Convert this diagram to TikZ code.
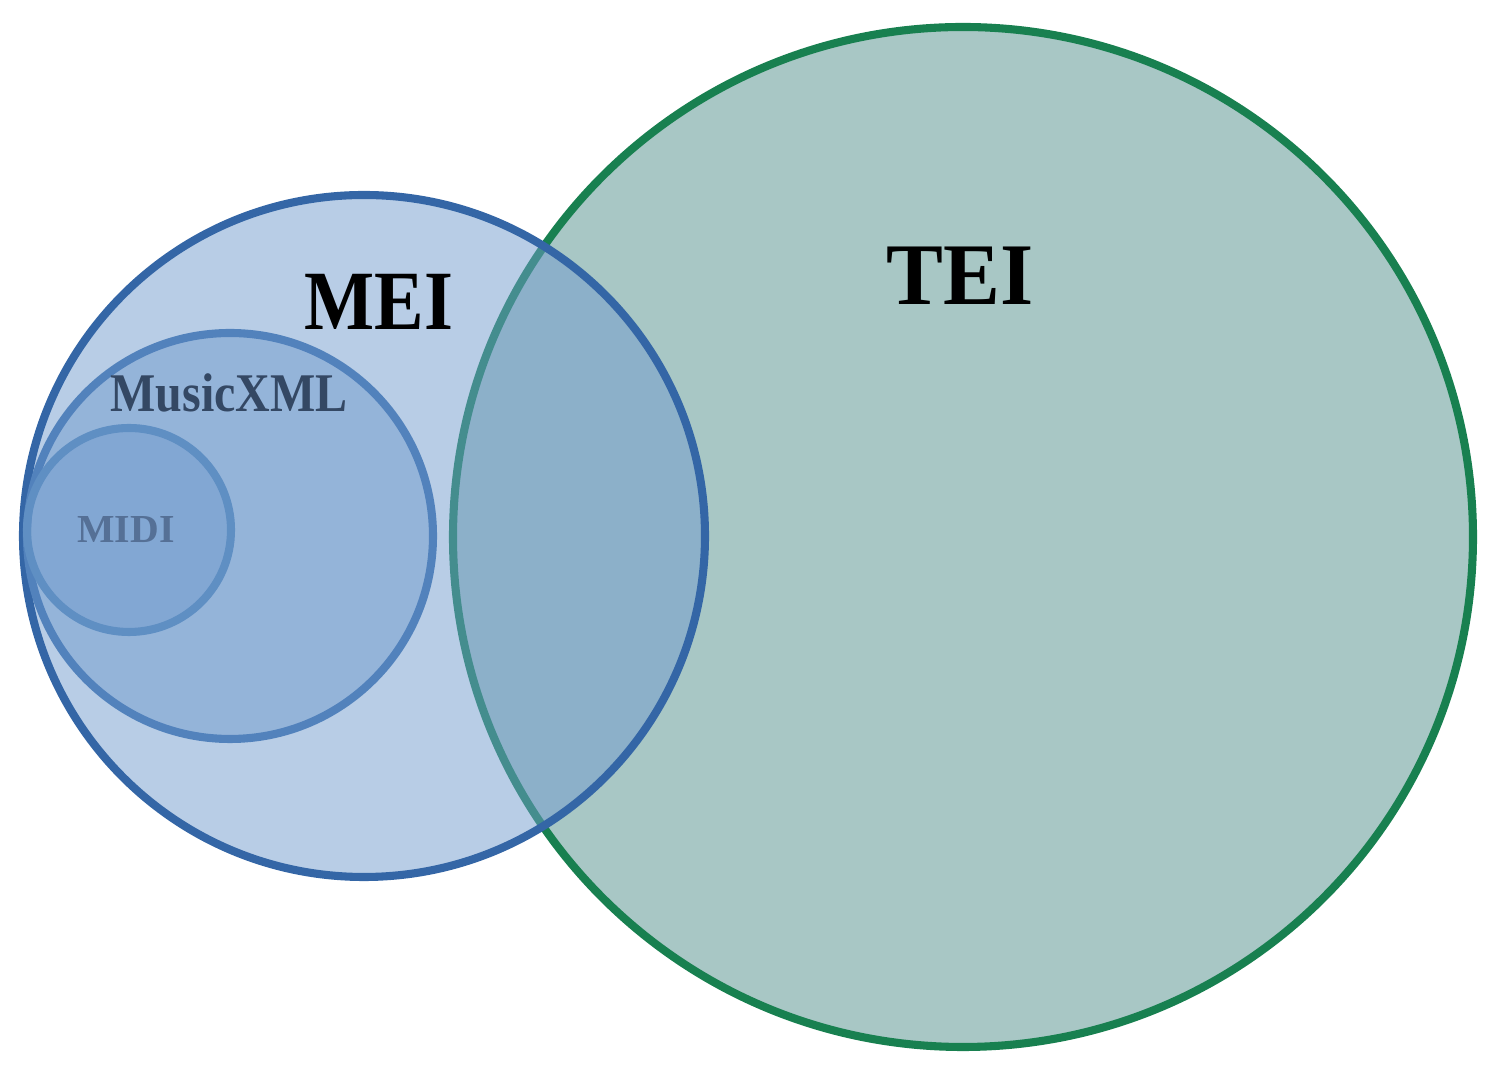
\documentclass[tikz,border=0pt]{standalone}
\usepackage{fontspec}
\setmainfont{Liberation Serif}
\usepackage{tikz}
\usetikzlibrary{positioning}

\definecolor{teifill}{RGB}{168,199,197}
\definecolor{teiline}{RGB}{24,128,80}
\definecolor{meifill}{RGB}{113,155,205}
\definecolor{meiline}{RGB}{52,102,166}
\definecolor{xmlline}{RGB}{82,130,188}
\definecolor{midiline}{RGB}{95,143,195}
\definecolor{xmltext}{RGB}{52,72,100}
\definecolor{miditext}{RGB}{85,112,150}

\tikzset{
  setcircle/.style={line width=2.3pt},
  setlabel/.style={anchor=base,inner sep=0pt,font=\bfseries}
}

\begin{document}
\begin{tikzpicture}

  \useasboundingbox (0,0) rectangle (15.03,10.68);

  % large set
  \draw[setcircle,draw=teiline,fill=teifill] (9.63,5.31) circle (5.10);

  % nested sets, same translucent blue
  \fill[meifill,fill opacity=0.5] (3.64,5.32) circle (3.41);
  \draw[setcircle,draw=meiline] (3.64,5.32) circle (3.41);

  \draw[setcircle,draw=xmlline,fill=meifill,fill opacity=0.5] (2.30,5.32) circle (2.03);
  \draw[setcircle,draw=midiline,fill=meifill,fill opacity=0.5] (1.29,5.38) circle (1.02);

  % labels
  \node[setlabel,font=\bfseries\fontsize{25}{30}\selectfont,xscale=0.97] (tei) at (9.60,7.63) {TEI};
  \node[setlabel,font=\bfseries\fontsize{24}{29}\selectfont,xscale=0.88] (mei) at (3.79,7.38) {MEI};
  \node[setlabel,text=xmltext,font=\bfseries\fontsize{15.5}{18}\selectfont,xscale=0.88] (musicxml) at (2.29,6.56) {MusicXML};
  \node[setlabel,text=miditext,font=\bfseries\fontsize{11.3}{13}\selectfont] (midi) at (1.26,5.25) {MIDI};

\end{tikzpicture}
\end{document}
